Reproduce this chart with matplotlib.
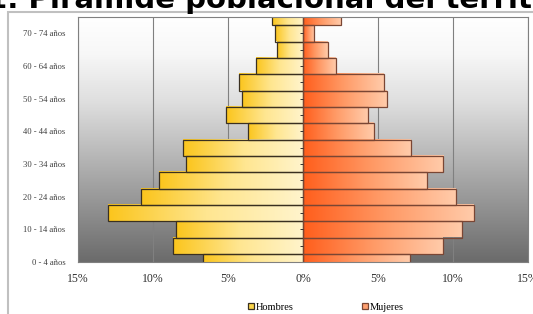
import numpy as np
import matplotlib
matplotlib.use("Agg")
import matplotlib.pyplot as plt
from matplotlib.colors import LinearSegmentedColormap
from matplotlib.patches import Rectangle, Patch

# grupos de edad, de abajo hacia arriba
edades = ["0 - 4 años", "5 - 9 años", "10 - 14 años", "15 - 19 años",
          "20 - 24 años", "25 - 29 años", "30 - 34 años", "35 - 39 años",
          "40 - 44 años", "45 - 49 años", "50 - 54 años", "55 - 59 años",
          "60 - 64 años", "65 - 69 años", "70 - 74 años", "75 y más"]
hombres = [6.7, 8.7, 8.5, 13.0, 10.8, 9.6, 7.8, 8.0,
           3.7, 5.15, 4.1, 4.25, 3.15, 1.75, 1.9, 2.1]
mujeres = [7.1, 9.3, 10.6, 11.4, 10.2, 8.25, 9.35, 7.2,
           4.7, 4.3, 5.6, 5.4, 2.2, 1.65, 0.75, 2.5]
xticks = [-15, -10, -5, 0, 5, 10, 15]
xlabels = ["15%", "10%", "5%", "0%", "5%", "10%", "15%"]

W, H = 533, 314
fig = plt.figure(figsize=(W / 100, H / 100), dpi=100)
fig.patch.set_facecolor("white")

# marco del grafico
fig.patches.append(Rectangle((8 / W, -0.1), 1.2, 302 / H + 0.1, transform=fig.transFigure,
                             fill=False, edgecolor="#c0c0c0", lw=1.5))

# titulo cortado arriba
fig.text(-13 / W, 1 - 8 / H, "1. Pirámide poblacional del territorio", fontsize=21,
         fontweight="bold", family="DejaVu Sans", ha="left", va="baseline", color="black")

ax = fig.add_axes([78 / W, 52 / H, 450 / W, 245 / H])

# fondo degradado del area de trazado
t = np.linspace(0, 1, 256)
shade = np.interp(t, [0, 0.15, 0.35, 0.65, 1.0], [1.0, 0.97, 0.87, 0.66, 0.42])
bg = np.dstack([shade, shade, shade]).reshape(256, 1, 3)
ax.imshow(bg, extent=(0, 1, 0, 1), transform=ax.transAxes, aspect="auto", zorder=0)

y = np.arange(len(edades))
h = -np.array(hombres)
m = np.array(mujeres)

bars_h = ax.barh(y, h, height=1.0, facecolor="none", edgecolor="#3a3020", lw=0.9, zorder=3)
bars_m = ax.barh(y, m, height=1.0, facecolor="none", edgecolor="#7a4634", lw=0.9, zorder=3)

grad = np.linspace(0, 1, 256).reshape(1, -1)
cmap_h = LinearSegmentedColormap.from_list("h", ["#fff4cc", "#ffe690", "#fbc51c"])
cmap_m = LinearSegmentedColormap.from_list("m", ["#ff5e1c", "#ff9a66", "#ffcbaa"])
for bars, cm in ((bars_h, cmap_h), (bars_m, cmap_m)):
    for b in bars:
        x0, w = b.get_x(), b.get_width()
        y0, hh = b.get_y(), b.get_height()
        im = ax.imshow(grad, cmap=cm, extent=(x0, x0 + w, y0, y0 + hh),
                       aspect="auto", zorder=2, interpolation="bilinear")
        im.set_clip_path(b)
        im.set_clip_box(ax.bbox)

# marcas del eje de categorias
ax.plot(np.zeros(len(y)), y, ls="none", marker=0, ms=2.5, color="#333333", mew=0.7, zorder=4)

ax.set_xlim(-15, 15)
ax.set_ylim(0, 15)
for xv in xticks:
    ax.axvline(xv, color="#808080", lw=0.8, zorder=1)

ax.set_xticks(xticks)
ax.set_xticklabels(xlabels, family="Liberation Serif", fontsize=8.5, color="#303030")
ax.set_yticks(y[:15:2])
ax.set_yticklabels(edades[:15:2], family="Liberation Serif", fontsize=6.2, color="#404040")
ax.tick_params(axis="x", length=0, pad=8)
ax.tick_params(axis="y", length=0, pad=9)
for s in ax.spines.values():
    s.set_color("#808080")
    s.set_linewidth(0.8)
    s.set_zorder(5)

handles = [Patch(facecolor="#fbd54a", edgecolor="#3a3020", lw=0.9, label="Hombres"),
           Patch(facecolor="#ffa070", edgecolor="#7a4634", lw=0.9, label="Mujeres")]
leg = fig.legend(handles=handles, loc="center", bbox_to_anchor=(326 / W, 7 / H), ncol=2,
                 frameon=False, handlelength=0.6, handleheight=0.6, handletextpad=0.2,
                 columnspacing=6.5, prop={"family": "Liberation Serif", "size": 7.5})

fig.savefig("out.png", dpi=100)
